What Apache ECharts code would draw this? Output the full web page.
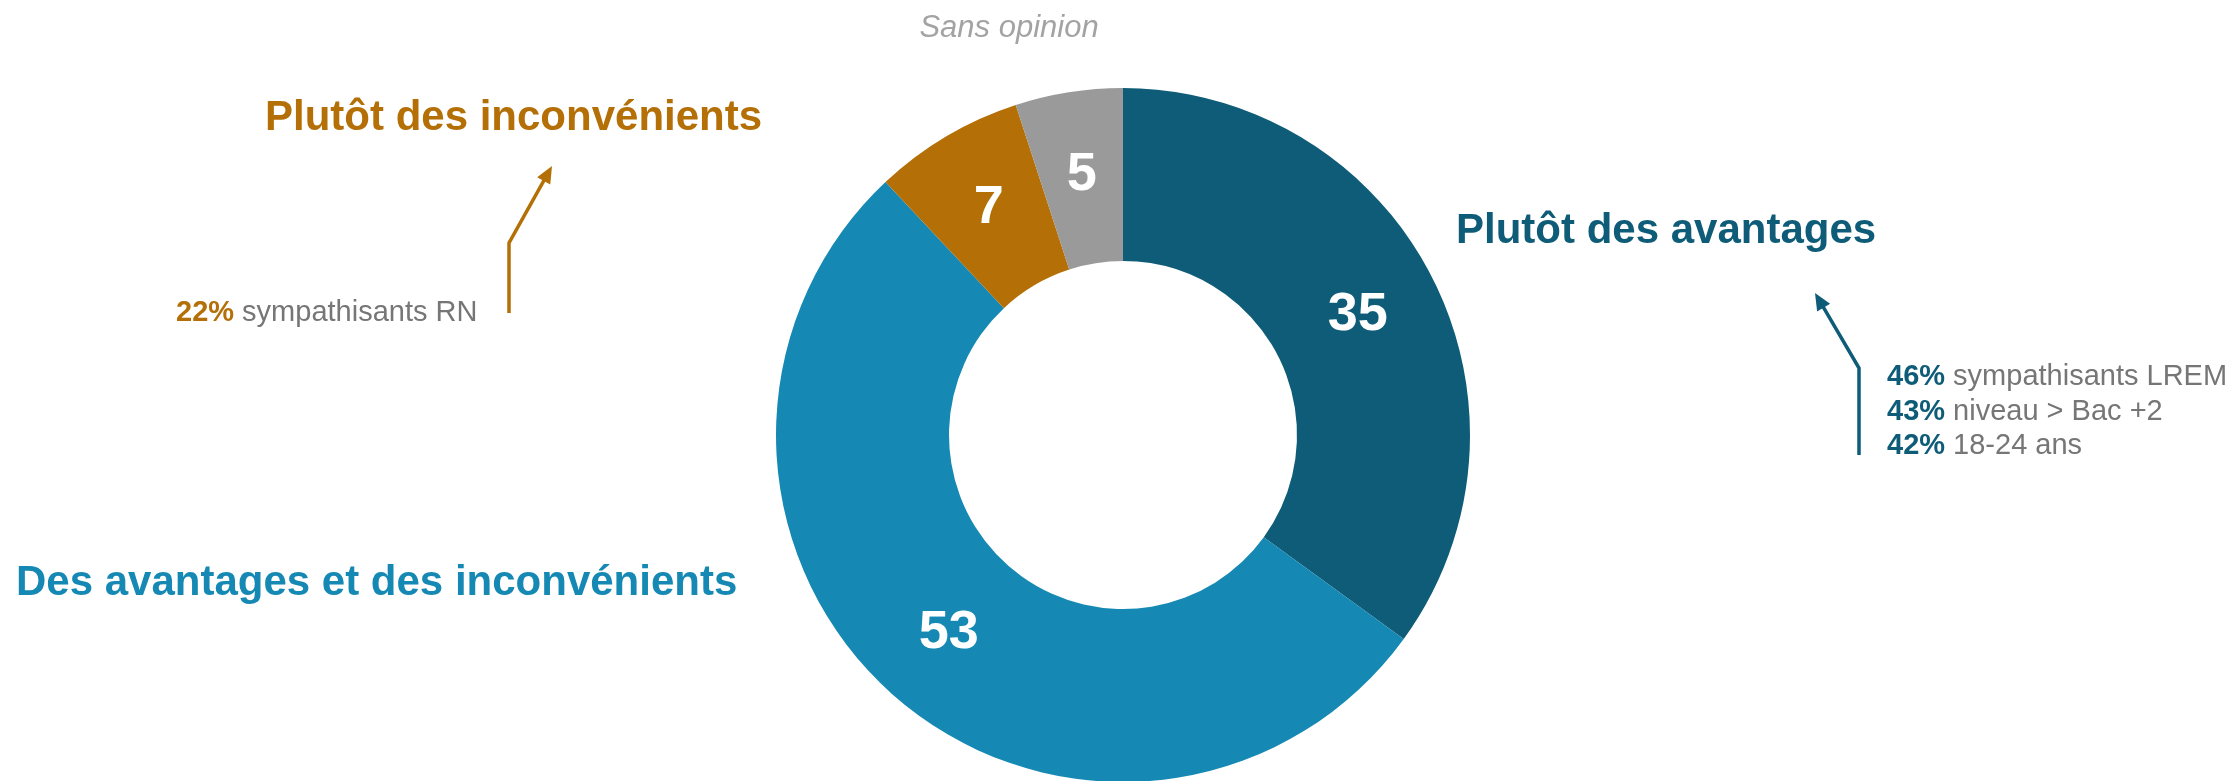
<!DOCTYPE html>
<html>
<head>
<meta charset="utf-8">
<title>Avantages / inconvénients</title>
<script src="https://cdn.jsdelivr.net/npm/echarts@6/dist/echarts.min.js"></script>
<style>
  html, body { margin: 0; padding: 0; background: #fff; }
  #main { width: 2234px; height: 781px; }
</style>
</head>
<body>
<div id="main"></div>
<script>
// data
var categories = ['Plutôt des avantages', 'Des avantages et des inconvénients', 'Plutôt des inconvénients', 'Sans opinion'];
var values = [35, 53, 7, 5];
var colors = ['#0e5c77', '#1589b4', '#b46f06', '#9a9a9a'];

var notesAvantages = [['46%', 'sympathisants LREM'], ['43%', 'niveau > Bac +2'], ['42%', '18-24 ans']];
var notesInconvenients = [['22%', 'sympathisants RN']];

var FONT = "'Liberation Sans', Arial, sans-serif";
var GREY_TEXT = '#767676';

var chart = echarts.init(document.getElementById('main'));

// arrow = polyline + small triangle head at the last point
function arrow(points, color) {
    var a = points[points.length - 2], b = points[points.length - 1];
    var dx = b[0] - a[0], dy = b[1] - a[1];
    var len = Math.sqrt(dx * dx + dy * dy);
    var ux = dx / len, uy = dy / len;
    var hl = 17, hw = 7.5;
    var bx = b[0] - ux * hl, by = b[1] - uy * hl;
    var lineEnd = [b[0] - ux * (hl - 2), b[1] - uy * (hl - 2)];
    var pts = points.slice(0, -1).concat([lineEnd]);
    return [
        { type: 'polyline', shape: { points: pts }, style: { stroke: color, lineWidth: 3.5, fill: null } },
        { type: 'polygon', shape: { points: [b, [bx - uy * hw, by + ux * hw], [bx + uy * hw, by - ux * hw]] }, style: { fill: color } }
    ];
}

function notes(list, x, y, lineH, color) {
    return list.map(function (n, i) {
        return {
            type: 'text', x: x, y: y + i * lineH,
            style: {
                text: '{b|' + n[0] + '}{r| ' + n[1] + '}',
                verticalAlign: 'middle', align: 'left',
                rich: {
                    b: { fontFamily: FONT, fontSize: 29, fontWeight: 'bold', fill: color },
                    r: { fontFamily: FONT, fontSize: 29, fill: GREY_TEXT }
                }
            }
        };
    });
}

function bigLabel(text, x, y, color) {
    return {
        type: 'text', x: x, y: y,
        style: { text: text, fontFamily: FONT, fontSize: 42, fontWeight: 'bold', fill: color, verticalAlign: 'middle', align: 'left' }
    };
}

var graphics = [
    {
        type: 'text', x: 1009, y: 28,
        style: { text: categories[3], fontFamily: FONT, fontSize: 31, fontStyle: 'italic', fill: '#a3a3a3', align: 'center', verticalAlign: 'middle' }
    },
    bigLabel(categories[0], 1456, 231, colors[0]),
    bigLabel(categories[2], 265, 118, colors[2]),
    bigLabel(categories[1], 16, 583, colors[1])
];
graphics = graphics
    .concat(notes(notesAvantages, 1887, 377, 34.5, colors[0]))
    .concat(notes(notesInconvenients, 176, 313, 34.5, colors[2]))
    .concat(arrow([[509, 313], [509, 243], [552, 166]], colors[2]))
    .concat(arrow([[1859, 455], [1859, 368], [1815, 293]], colors[0]));

var option = {
    animation: false,
    color: colors,
    graphic: graphics,
    series: [{
        type: 'pie',
        center: [1123, 435],
        radius: [174, 347],
        startAngle: 90,
        clockwise: true,
        avoidLabelOverlap: false,
        silent: true,
        itemStyle: { borderWidth: 0 },
        label: {
            show: true,
            position: 'inside',
            formatter: '{c}',
            color: '#fff',
            fontFamily: FONT,
            fontSize: 54,
            fontWeight: 'bold'
        },
        labelLine: { show: false },
        data: categories.map(function (c, i) {
            return { name: c, value: values[i] };
        })
    }]
};
chart.setOption(option);
</script>
</body>
</html>
